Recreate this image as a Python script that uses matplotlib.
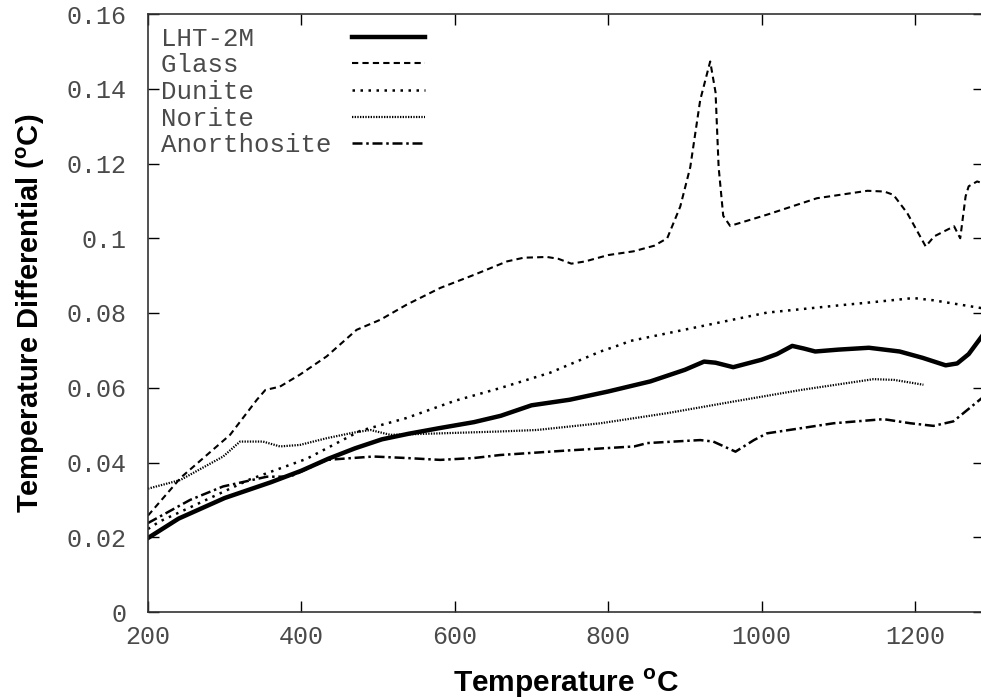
# %%
# DTA curves: temperature differential vs temperature
import matplotlib
matplotlib.use('Agg')
import matplotlib.pyplot as plt

# %%
# Data
lht_x = [200, 240, 300, 360, 400, 435, 470, 505, 540, 580, 625, 660, 700, 750, 800, 855, 900, 925, 940,
         963, 1000, 1020, 1040, 1055, 1070, 1100, 1140, 1180, 1210, 1240, 1255, 1270, 1287]
lht_y = [0.0198, 0.025, 0.0305, 0.0347, 0.0378, 0.041, 0.0438, 0.0462, 0.0477, 0.0492, 0.0508, 0.0525,
         0.0553, 0.0568, 0.059, 0.0617, 0.0648, 0.067, 0.0667, 0.0655, 0.0675, 0.069, 0.0712, 0.0705,
         0.0697, 0.0702, 0.0707, 0.0697, 0.068, 0.066, 0.0665, 0.069, 0.0737]

glass_x = [200, 243, 307, 342, 353, 372, 398, 433, 472, 503, 537, 581, 625, 668, 690, 707, 720, 735, 752,
           770, 800, 833, 860, 877, 894, 907, 920, 933, 940, 944, 950, 959, 1007, 1072, 1138, 1160, 1172,
           1190, 1214, 1225, 1251, 1259, 1266, 1270, 1281, 1287]
glass_y = [0.0258, 0.036, 0.0474, 0.0568, 0.0594, 0.0603, 0.0635, 0.0684, 0.0755, 0.0782, 0.0822, 0.0867,
           0.0902, 0.0938, 0.0948, 0.0949, 0.095, 0.0945, 0.0932, 0.0938, 0.0955, 0.0965, 0.098, 0.1,
           0.1085, 0.119, 0.137, 0.1473, 0.139, 0.119, 0.106, 0.1033, 0.1063, 0.1107, 0.1127, 0.1125,
           0.1116, 0.1067, 0.0978, 0.1005, 0.1032, 0.1, 0.1112, 0.1139, 0.1152, 0.1148]

dunite_x = [200, 215, 255, 333, 407, 477, 537, 600, 659, 724, 790, 820, 826, 920, 1007, 1094, 1150, 1198,
            1224, 1287]
dunite_y = [0.0222, 0.0242, 0.028, 0.0355, 0.041, 0.0485, 0.0519, 0.0565, 0.0599, 0.064, 0.0697, 0.0718,
            0.0724, 0.0764, 0.0801, 0.0819, 0.083, 0.084, 0.0834, 0.0813]

norite_x = [200, 242, 298, 320, 350, 372, 398, 433, 468, 490, 516, 581, 659, 707, 790, 877, 963, 1051,
            1146, 1173, 1211]
norite_y = [0.033, 0.0353, 0.0416, 0.0456, 0.0456, 0.0443, 0.0447, 0.0465, 0.048, 0.0487, 0.0474, 0.0478,
            0.0483, 0.0487, 0.0505, 0.0532, 0.0563, 0.0594, 0.0623, 0.0621, 0.0608]

anor_x = [200, 255, 298, 355, 385, 433, 494, 537, 581, 625, 659, 746, 834, 851, 920, 937, 966, 990, 1007,
          1094, 1159, 1194, 1224, 1250, 1287]
anor_y = [0.0238, 0.03, 0.0336, 0.0362, 0.0362, 0.0407, 0.0416, 0.0412, 0.0407, 0.0412, 0.042, 0.0432,
          0.0443, 0.0452, 0.046, 0.0456, 0.0429, 0.046, 0.0478, 0.0505, 0.0516, 0.0505, 0.0498, 0.051, 0.0572]

x_ticks = [200, 400, 600, 800, 1000, 1200]
y_ticks = [0, 0.02, 0.04, 0.06, 0.08, 0.1, 0.12, 0.14, 0.16]
y_labels = ['0', '0.02', '0.04', '0.06', '0.08', '0.1', '0.12', '0.14', '0.16']

# %%
# Fonts
plt.rcParams['font.family'] = ['Liberation Mono', 'DejaVu Sans Mono']
plt.rcParams['mathtext.fontset'] = 'custom'
plt.rcParams['mathtext.rm'] = 'Liberation Sans'
plt.rcParams['mathtext.bf'] = 'Liberation Sans:bold'
label_font = dict(family=['Liberation Sans Narrow', 'Liberation Sans'], weight='bold')

# %%
fig = plt.figure(figsize=(9.81, 7.0), dpi=100)
ax = fig.add_axes([148 / 981, 88 / 700, 836 / 981, 598 / 700])

# monospace labels padded so they stay left aligned with handles on the right
ax.plot(lht_x, lht_y, color='black', lw=3.2, label='LHT-2M'.ljust(11))
ax.plot(glass_x, glass_y, color='black', lw=1.5, linestyle=(0, (3, 2)), label='Glass'.ljust(11))
ax.plot(dunite_x, dunite_y, color='black', lw=1.8, linestyle=(0, (1, 2.2)), label='Dunite'.ljust(11))
ax.plot(norite_x, norite_y, color='black', lw=1.6, linestyle=(0, (0.6, 0.6)), label='Norite'.ljust(11))
ax.plot(anor_x, anor_y, color='black', lw=1.8, linestyle=(0, (4, 1.5, 1, 1.5)), label='Anorthosite')

ax.set_xlim(200, 1290)
ax.set_ylim(0, 0.16)
ax.set_xticks(x_ticks)
ax.set_yticks(y_ticks)
ax.set_yticklabels(y_labels)
ax.tick_params(direction='in', length=8, width=1, top=True, right=True,
               labelsize=18, labelcolor='#4a4a4a')
ax.tick_params(axis='y', pad=15.5)
ax.tick_params(axis='x', pad=9)
for sp in ax.spines.values():
    sp.set_linewidth(1.2)
    sp.set_color('#333333')

ax.set_xlabel(r'Temperature $^{\mathbf{o}}$C', fontdict=label_font, fontsize=21.5, labelpad=13)
ax.set_ylabel(r'Temperature Differential ($^{\mathbf{o}}$C)', fontdict=label_font, fontsize=21,
              labelpad=14)

leg = ax.legend(loc='upper left', frameon=False, markerfirst=True, fontsize=18.5,
                handlelength=2.85, handletextpad=0.8, labelspacing=0.1,
                borderaxespad=0.3, borderpad=0.2)
# put handles after the text
for row in leg._legend_handle_box.get_children()[0].get_children():
    row._children = row._children[::-1]
for t in leg.get_texts():
    t.set_color('#4a4a4a')

fig.savefig('out.png', dpi=100)
